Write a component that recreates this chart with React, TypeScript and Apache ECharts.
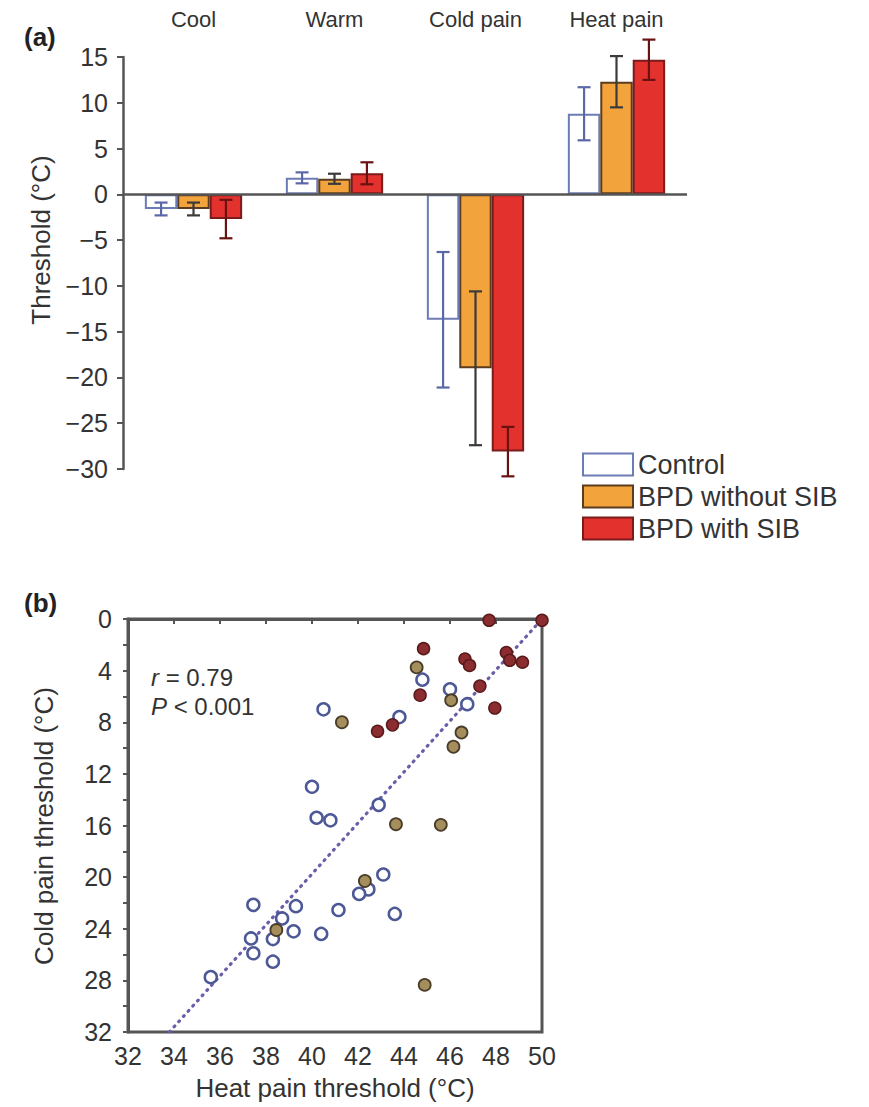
import React, { useEffect, useRef } from 'react';
import * as echarts from 'echarts';

// ---------- Panel (a) data ----------
const categories = ['Cool', 'Warm', 'Cold pain', 'Heat pain'];
const groupNames = ['Control', 'BPD without SIB', 'BPD with SIB'];
const controlMean = [-1.6, 1.8, -13.7, 8.8];
const controlSD = [0.7, 0.6, 7.4, 2.9];
const noSibMean = [-1.6, 1.7, -19.0, 12.3];
const noSibSD = [0.7, 0.55, 8.4, 2.8];
const sibMean = [-2.7, 2.3, -28.1, 14.7];
const sibSD = [2.1, 1.2, 2.7, 2.2];
const barAxisMin = -30;
const barAxisMax = 15;
const barAxisStep = 5;

// ---------- Panel (b) data: [heat pain, cold pain] ----------
const controlPoints = [
  [44.8, 4.7], [46.0, 5.45], [46.75, 6.6], [43.8, 7.6], [40.5, 7.0],
  [40.0, 13.0], [40.2, 15.4], [40.8, 15.6], [42.9, 14.4], [43.1, 19.8],
  [42.45, 20.95], [42.05, 21.3], [41.15, 22.55], [43.6, 22.85], [37.45, 22.15],
  [39.3, 22.25], [38.7, 23.2], [39.2, 24.2], [40.4, 24.4], [37.35, 24.75],
  [38.3, 24.8], [37.45, 25.9], [38.3, 26.55], [35.6, 27.75],
];
const noSibPoints = [
  [44.55, 3.75], [46.05, 6.3], [41.3, 8.0], [46.5, 8.8], [46.15, 9.9],
  [43.65, 15.9], [45.6, 15.95], [42.3, 20.3], [38.45, 24.1], [44.9, 28.35],
];
const sibPoints = [
  [47.7, 0.1], [50.0, 0.1], [44.85, 2.3], [46.65, 3.1], [46.85, 3.6],
  [48.45, 2.6], [48.6, 3.2], [49.15, 3.35], [47.3, 5.2], [44.7, 5.9],
  [47.95, 6.9], [43.5, 8.2], [42.85, 8.7],
];
const regressionLine = [[33.8, 32], [50, 0]];
const heatMin = 32, heatMax = 50, heatStep = 2;
const coldMin = 0, coldMax = 32, coldStep = 4;
const statR = '0.79';
const statP = '0.001';

const FONT = '"Liberation Sans", Arial, sans-serif';
const TXT = '#333';
const AX = '#555';

const groupStyles = [
  { fill: '#ffffff', border: '#6c7cb4', err: '#5a68a8' },
  { fill: '#f3a33c', border: '#5c3c1e', err: '#3a3a3a' },
  { fill: '#e3312d', border: '#7a1c1c', err: '#6a1212' },
];
const BAR_GAP = 0.31;

function errRenderer(j: number, color: string) {
  return (params: any, api: any) => {
    const i = api.value(0);
    const m = api.value(1);
    const s = api.value(2);
    const band = api.size([1, 0])[0];
    const w = (band * (1 - BAR_GAP)) / 3;
    const cx = api.coord([i, 0])[0] + (j - 1) * w;
    const yt = api.coord([i, m + s])[1];
    const yb = api.coord([i, m - s])[1];
    const cap = 6.5;
    const st = { stroke: color, lineWidth: 2.2 };
    return {
      type: 'group',
      children: [
        { type: 'line', shape: { x1: cx, y1: yt, x2: cx, y2: yb }, style: st },
        { type: 'line', shape: { x1: cx - cap, y1: yt, x2: cx + cap, y2: yt }, style: st },
        { type: 'line', shape: { x1: cx - cap, y1: yb, x2: cx + cap, y2: yb }, style: st },
      ],
    };
  };
}

export default function App() {
  const ref = useRef<HTMLDivElement>(null);
  useEffect(() => {
    if (!ref.current) return;
    const chart = echarts.init(ref.current, undefined, { renderer: 'svg' });
    const means = [controlMean, noSibMean, sibMean];
    const sds = [controlSD, noSibSD, sibSD];

    const barSeries = groupNames.map((name, j) => ({
      name,
      type: 'bar',
      xAxisIndex: 0,
      yAxisIndex: 0,
      data: means[j],
      barGap: '0%',
      barCategoryGap: '31%',
      itemStyle: {
        color: groupStyles[j].fill,
        borderColor: groupStyles[j].border,
        borderWidth: 2,
      },
      z: 2,
      ...(j === 0
        ? {
            markLine: {
              silent: true,
              symbol: 'none',
              label: { show: false },
              lineStyle: { color: AX, width: 2.5, type: 'solid' },
              data: [{ yAxis: 0 }],
              z: 5,
            },
          }
        : {}),
    }));

    const errSeries = groupNames.map((name, j) => ({
      name: name + ' SD',
      type: 'custom',
      xAxisIndex: 0,
      yAxisIndex: 0,
      clip: false,
      z: 6,
      renderItem: errRenderer(j, groupStyles[j].err),
      encode: { x: 0, y: 1 },
      data: categories.map((c, i) => [i, means[j][i], sds[j][i]]),
    }));

    const option: any = {
      animation: false,
      backgroundColor: '#ffffff',
      textStyle: { fontFamily: FONT },
      grid: [
        { left: 123, top: 57, width: 564, height: 412 },
        {
          left: 128, top: 619, width: 414, height: 413,
          show: true, borderColor: AX, borderWidth: 3, backgroundColor: 'transparent',
        },
      ],
      legend: {
        data: groupNames,
        orient: 'vertical',
        left: 582,
        top: 451,
        itemWidth: 50,
        itemHeight: 22,
        itemGap: 5,
        padding: 0,
        icon: 'rect',
        selectedMode: false,
        textStyle: { fontSize: 27, color: TXT, fontFamily: FONT },
      },
      xAxis: [
        {
          gridIndex: 0,
          type: 'category',
          data: categories,
          position: 'top',
          axisLine: { show: false, onZero: false },
          axisTick: { show: false },
          axisLabel: { fontSize: 22, color: TXT, margin: 27, fontFamily: FONT },
          splitLine: { show: false },
        },
        {
          gridIndex: 1,
          type: 'value',
          min: heatMin,
          max: heatMax,
          interval: heatStep,
          axisLine: { show: true, lineStyle: { color: AX, width: 3 } },
          axisTick: { show: true, length: 5, lineStyle: { color: AX, width: 2 } },
          axisLabel: { fontSize: 25, color: TXT, margin: 11, fontFamily: FONT },
          splitLine: { show: false },
        },
      ],
      yAxis: [
        {
          gridIndex: 0,
          type: 'value',
          min: barAxisMin,
          max: barAxisMax,
          interval: barAxisStep,
          axisLine: { show: true, lineStyle: { color: AX, width: 2.5 } },
          axisTick: { show: true, length: 6, lineStyle: { color: AX, width: 2 } },
          axisLabel: {
            fontSize: 25,
            color: TXT,
            margin: 15,
            fontFamily: FONT,
            formatter: (v: number) => String(v).replace('-', '\u2212'),
          },
          splitLine: { show: false },
        },
        {
          gridIndex: 1,
          type: 'value',
          inverse: true,
          min: coldMin,
          max: coldMax,
          interval: coldStep,
          axisLine: { show: true, lineStyle: { color: AX, width: 3 } },
          axisTick: { show: true, length: 5, lineStyle: { color: AX, width: 2 } },
          minorTick: { show: true, splitNumber: 2, length: 5, lineStyle: { color: AX, width: 2 } },
          axisLabel: { fontSize: 25, color: TXT, margin: 16, fontFamily: FONT },
          splitLine: { show: false },
        },
      ],
      graphic: [
        { type: 'text', left: 24, top: 24, style: { text: '(a)', font: `bold 26px ${FONT}`, fill: '#222' } },
        { type: 'text', left: 24, top: 590, style: { text: '(b)', font: `bold 26px ${FONT}`, fill: '#222' } },
        {
          type: 'text', x: 41, y: 240, rotation: Math.PI / 2,
          style: { text: 'Threshold (°C)', font: `26px ${FONT}`, fill: TXT, align: 'center', verticalAlign: 'middle' },
        },
        {
          type: 'text', x: 44, y: 826, rotation: Math.PI / 2,
          style: { text: 'Cold pain threshold (°C)', font: `26px ${FONT}`, fill: TXT, align: 'center', verticalAlign: 'middle' },
        },
        {
          type: 'text', x: 335, y: 1088,
          style: { text: 'Heat pain threshold (°C)', font: `26px ${FONT}`, fill: TXT, align: 'center', verticalAlign: 'middle' },
        },
        {
          type: 'text', x: 151, y: 677,
          style: {
            text: '{i|r} = ' + statR,
            font: `24px ${FONT}`, fill: TXT, verticalAlign: 'middle',
            rich: { i: { fontStyle: 'italic', fontSize: 24, fontFamily: FONT, fill: TXT } },
          },
        },
        {
          type: 'text', x: 151, y: 706,
          style: {
            text: '{i|P} < ' + statP,
            font: `24px ${FONT}`, fill: TXT, verticalAlign: 'middle',
            rich: { i: { fontStyle: 'italic', fontSize: 24, fontFamily: FONT, fill: TXT } },
          },
        },
      ],
      series: [
        ...barSeries,
        ...errSeries,
        {
          name: 'Regression',
          type: 'line',
          xAxisIndex: 1,
          yAxisIndex: 1,
          data: regressionLine,
          symbol: 'none',
          z: 1,
          lineStyle: { color: '#6a5ea8', width: 3.2, type: [1, 6], cap: 'round' },
        },
        {
          name: 'Control points',
          type: 'scatter',
          xAxisIndex: 1,
          yAxisIndex: 1,
          data: controlPoints,
          symbolSize: 12,
          z: 3,
          itemStyle: { color: '#ffffff', borderColor: '#4d5896', borderWidth: 2.5, opacity: 1 },
        },
        {
          name: 'BPD without SIB points',
          type: 'scatter',
          xAxisIndex: 1,
          yAxisIndex: 1,
          data: noSibPoints,
          symbolSize: 12,
          z: 3,
          itemStyle: { color: '#a48e5c', borderColor: '#4a3c2a', borderWidth: 1.8, opacity: 1 },
        },
        {
          name: 'BPD with SIB points',
          type: 'scatter',
          xAxisIndex: 1,
          yAxisIndex: 1,
          data: sibPoints,
          symbolSize: 12,
          z: 3,
          itemStyle: { color: '#8a2c30', borderColor: '#5a1a1c', borderWidth: 1.5, opacity: 1 },
        },
      ],
    };
    chart.setOption(option);
    return () => chart.dispose();
  }, []);
  return (
    <div
      ref={ref}
      style={{ position: 'fixed', left: 0, top: 0, width: 869, height: 1107, background: '#fff' }}
    />
  );
}
